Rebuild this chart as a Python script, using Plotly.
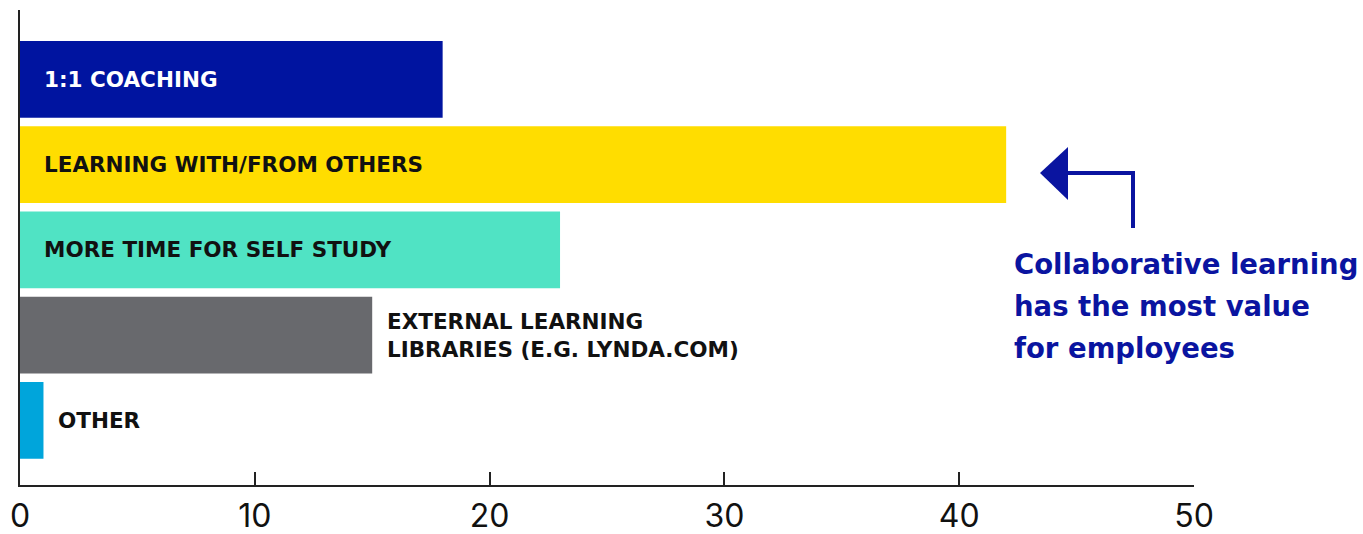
import plotly.graph_objects as go

# Survey responses: what employees value most for learning
categories = [
    "1:1 COACHING",
    "LEARNING WITH/FROM OTHERS",
    "MORE TIME FOR SELF STUDY",
    "EXTERNAL LEARNING<br>LIBRARIES (E.G. LYNDA.COM)",
    "OTHER",
]
values = [18, 42, 23, 15, 1]
bar_colors = ["#0014A0", "#FFDD00", "#50E3C4", "#68696D", "#00A5DB"]
label_colors = ["#FFFFFF", "#111111", "#111111", "#111111", "#111111"]
label_inside = [True, True, True, False, False]
tick_values = [0, 10, 20, 30, 40, 50]

callout_lines = ["Collaborative learning", "has the most value", "for employees"]
accent = "#0A14A0"

positions = list(range(len(categories)))

W, H = 1363, 534
ML, MR, MT, MB = 20, 169, 10, 49

fig = go.Figure()
fig.add_trace(go.Bar(
    x=values,
    y=positions,
    orientation="h",
    marker=dict(color=bar_colors, line=dict(width=0)),
    width=0.9,
    hoverinfo="skip",
))

label_font = "'DejaVu Sans', Verdana, sans-serif"
for pos, cat, val, col, inside in zip(positions, categories, values, label_colors, label_inside):
    fig.add_annotation(
        x=0 if inside else val,
        y=pos,
        xref="x",
        yref="y",
        text=cat,
        showarrow=False,
        xanchor="left",
        yanchor="middle",
        align="left",
        xshift=22 if inside else 13,
        font=dict(family=label_font, size=21.5, color=col, weight=700),
    )

plot_w = W - ML - MR
plot_h = H - MT - MB


def px_x(p):
    return (p - ML) / plot_w


def px_y(p):
    return 1 - (p - MT) / plot_h


# Callout text, one annotation per line for wider leading
for i, line in enumerate(callout_lines):
    fig.add_annotation(
        x=px_x(1012),
        y=px_y(264 + 42 * i),
        xref="paper",
        yref="paper",
        text=line,
        showarrow=False,
        xanchor="left",
        yanchor="middle",
        align="left",
        font=dict(family=label_font, size=27.5, color=accent, weight=700),
    )

# Bent arrow pointing back at the top bar
fig.add_shape(
    type="path",
    xref="paper", yref="paper",
    path=f"M {px_x(1133)},{px_y(228)} L {px_x(1133)},{px_y(173)} L {px_x(1066)},{px_y(173)}",
    line=dict(color=accent, width=4),
)
fig.add_shape(
    type="path",
    xref="paper", yref="paper",
    path=f"M {px_x(1040)},{px_y(173)} L {px_x(1068)},{px_y(147)} L {px_x(1068)},{px_y(200)} Z",
    fillcolor=accent,
    line=dict(color=accent, width=0),
)

fig.update_layout(
    width=W,
    height=H,
    margin=dict(l=ML, r=MR, t=MT, b=MB),
    paper_bgcolor="white",
    plot_bgcolor="white",
    showlegend=False,
    bargap=0.1,
    xaxis=dict(
        range=[0, 50],
        tickvals=tick_values,
        ticks="inside",
        ticklen=13,
        tickwidth=1.5,
        tickcolor="#222222",
        showline=True,
        linecolor="#222222",
        linewidth=1.5,
        showgrid=False,
        zeroline=False,
        automargin=False,
        tickfont=dict(family="Inter, Roboto, sans-serif", size=32, color="#111111"),
        ticklabelstandoff=2,
        fixedrange=True,
    ),
    yaxis=dict(
        range=[4.757, -0.815],
        showticklabels=False,
        ticks="",
        showline=True,
        linecolor="#222222",
        linewidth=1.5,
        showgrid=False,
        zeroline=False,
        automargin=False,
        fixedrange=True,
    ),
)

fig.write_html("out.html")
